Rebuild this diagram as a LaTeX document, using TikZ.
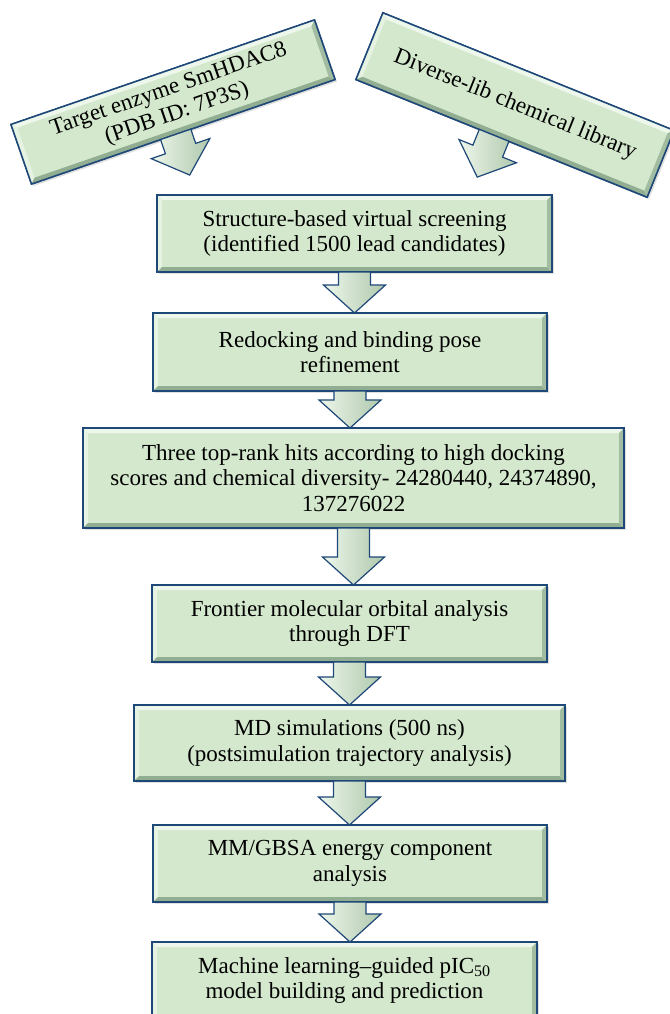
\documentclass[tikz,border=0pt]{standalone}
\usepackage{fontspec}
\setmainfont{Liberation Serif}
\usetikzlibrary{calc,shadows}

\definecolor{boxfill}{RGB}{212,232,205}
\definecolor{boxline}{RGB}{30,72,120}
\definecolor{bevellight}{RGB}{238,247,235}
\definecolor{beveldark}{RGB}{146,174,146}

\newcommand{\bevelwd}{5pt}
\newcommand{\boxbevel}[1]{%
	\coordinate (#1-inw) at ($(#1.north west)!\bevelwd!(#1.north east)!\bevelwd!-90:(#1.north east)$);
	\coordinate (#1-ine) at ($(#1.north east)!\bevelwd!(#1.north west)!\bevelwd!90:(#1.north west)$);
	\coordinate (#1-ise) at ($(#1.south east)!\bevelwd!(#1.south west)!\bevelwd!-90:(#1.south west)$);
	\coordinate (#1-isw) at ($(#1.south west)!\bevelwd!(#1.south east)!\bevelwd!90:(#1.south east)$);
	\fill[bevellight] (#1.north west) -- (#1.north east) -- (#1-ine) -- (#1-inw) -- cycle;
	\fill[bevellight!70!boxfill] (#1.north west) -- (#1-inw) -- (#1-isw) -- (#1.south west) -- cycle;
	\fill[beveldark] (#1.south west) -- (#1.south east) -- (#1-ise) -- (#1-isw) -- cycle;
	\fill[beveldark!75!boxfill] (#1.north east) -- (#1.south east) -- (#1-ise) -- (#1-ine) -- cycle;
	\draw[boxline, line width=1.5pt, line join=miter]
		(#1.north west) -- (#1.north east) -- (#1.south east) -- (#1.south west) -- cycle;
}

\tikzset{
	stepbox/.style={
		draw=boxline, line width=1.5pt, fill=boxfill,
		outer sep=0pt, inner sep=6pt, align=center,
		font=\fontsize{23}{25.5}\selectfont,
		drop shadow={shadow xshift=2pt, shadow yshift=-2pt, opacity=0.25}},
	fatarrow/.style={
		draw=boxline, line width=1.2pt, line join=miter,
		left color=bevellight, right color=beveldark!55!boxfill,
		to path={
			($(\tikztostart)!16pt!90:(\tikztotarget)$)
			-- ($(\tikztotarget)!28pt!(\tikztostart)!16pt!-90:(\tikztostart)$)
			-- ($(\tikztotarget)!28pt!(\tikztostart)!31pt!-90:(\tikztostart)$)
			-- (\tikztotarget)
			-- ($(\tikztotarget)!28pt!(\tikztostart)!31pt!90:(\tikztostart)$)
			-- ($(\tikztotarget)!28pt!(\tikztostart)!16pt!90:(\tikztostart)$)
			-- ($(\tikztostart)!16pt!-90:(\tikztotarget)$)
			-- cycle}}
}

\begin{document}
\begin{tikzpicture}[x=1pt, y=1pt]
	\useasboundingbox
		(0,0) rectangle (669,-1014);

	% the two inputs
	\node (tl) at (173, -102) [stepbox, rotate=19, minimum width=321pt, minimum height=63pt]
		{Target enzyme SmHDAC8\\(PDB ID: 7P3S)};
	\boxbevel{tl}

	\node (tr) at (515, -105) [stepbox, rotate=-22, minimum width=314pt, minimum height=72pt]
		{Diverse-lib chemical library};
	\boxbevel{tr}

	% the pipeline
	\node (b1) at (354.5, -233.5) [stepbox, minimum width=395pt, minimum height=77pt]
		{Structure-based virtual screening\\(identified 1500 lead candidates)};
	\boxbevel{b1}

	\node (b2) at (350, -352) [stepbox, minimum width=394pt, minimum height=78pt]
		{Redocking and binding pose\\refinement};
	\boxbevel{b2}

	\node (b3) at (353.5, -478) [stepbox, minimum width=541pt, minimum height=100pt]
		{Three top-rank hits according to high docking\\scores and chemical diversity- 24280440, 24374890,\\137276022};
	\boxbevel{b3}

	\node (b4) at (349.5, -623.5) [stepbox, minimum width=395pt, minimum height=77pt]
		{Frontier molecular orbital analysis\\through DFT};
	\boxbevel{b4}

	\node (b5) at (349.5, -743) [stepbox, minimum width=431pt, minimum height=76pt]
		{MD simulations (500 ns)\\(postsimulation trajectory analysis)};
	\boxbevel{b5}

	\node (b6) at (350, -863.5) [stepbox, minimum width=394pt, minimum height=77pt]
		{MM/GBSA energy component\\analysis};
	\boxbevel{b6}

	\node (b7) at (344.5, -980.5) [stepbox, minimum width=385pt, minimum height=77pt]
		{Machine learning--guided pIC\textsubscript{50}\\model building and prediction};
	\boxbevel{b7}

	% arrows
	\coordinate (tlstart) at ($(tl.south)!8pt!(tl.south west)$);
	\coordinate (tltip) at ($(tlstart)!43pt!90:(tl.south west)$);
	\coordinate (trstart) at ($(tr.south)!8pt!(tr.south west)$);
	\coordinate (trtip) at ($(trstart)!45pt!90:(tr.south west)$);

	\draw
		[fatarrow] (tlstart) to (tltip);

	\draw
		[fatarrow] (trstart) to (trtip);

	\foreach \a/\b in {b1/b2, b2/b3, b3/b4, b4/b5, b5/b6, b6/b7}
		\draw
			[fatarrow] (\a.south) to (\a.south |- \b.north);

\end{tikzpicture}
\end{document}
